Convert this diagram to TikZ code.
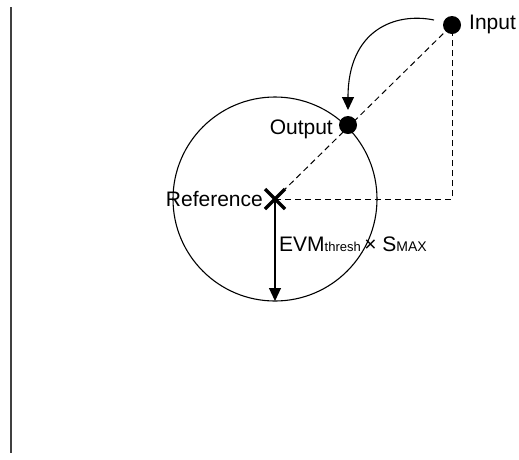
\documentclass[tikz,border=0pt]{standalone}
\usepackage{fontspec}
\setmainfont{Liberation Sans}
\usetikzlibrary{arrows.meta}
\tikzset{
  dot/.style={circle, fill=black, inner sep=0pt, minimum size=18pt},
  lbl/.style={font=\fontsize{21}{24}\selectfont, inner sep=0pt},
  guide/.style={dashed, dash pattern=on 6pt off 4pt, line width=1pt},
  tip/.style={-{Triangle[length=13pt,width=12pt]}, line width=1.1pt}
}
\begin{document}
\begin{tikzpicture}[x=1pt, y=-1pt]
  \useasboundingbox (0,0) rectangle (519,459);
  % left rule
  \draw[line width=1.3pt, black!75] (11,7) -- (11,453);
  % tolerance circle
  \coordinate (ref) at (275,199);
  \draw[line width=1.1pt] (ref) circle (102);
  % points
  \node[dot] (in) at (452,25) {};
  \node[dot] (out) at (348,125) {};
  \coordinate (corner) at (452,199);
  \coordinate (rim) at (275,301);
  % guides
  \draw[guide] (ref) -- (in.center);
  \draw[guide] (ref) -- (corner) -- (in.center);
  % reference marker
  \draw[line width=3.2pt] (265,189) -- (285,209) (265,209) -- (285,189);
  % radius arrow
  \draw[tip] (ref) -- (rim);
  % input-to-output arrow
  \draw[tip] (434,20) .. controls (395,12) and (348,30) .. (348,110);
  % labels
  \node[lbl, anchor=west] (inl) at (469,24) {Input};
  \node[lbl, anchor=east] (outl) at (333,129) {Output};
  \node[lbl, anchor=east] (refl) at (263,199) {Reference};
  \node[lbl, anchor=base west] (evm) at (279,251) {EVM{\fontsize{13}{15}\selectfont thresh}\,\texttimes\ S{\fontsize{14}{15}\selectfont MAX}};
\end{tikzpicture}
\end{document}
